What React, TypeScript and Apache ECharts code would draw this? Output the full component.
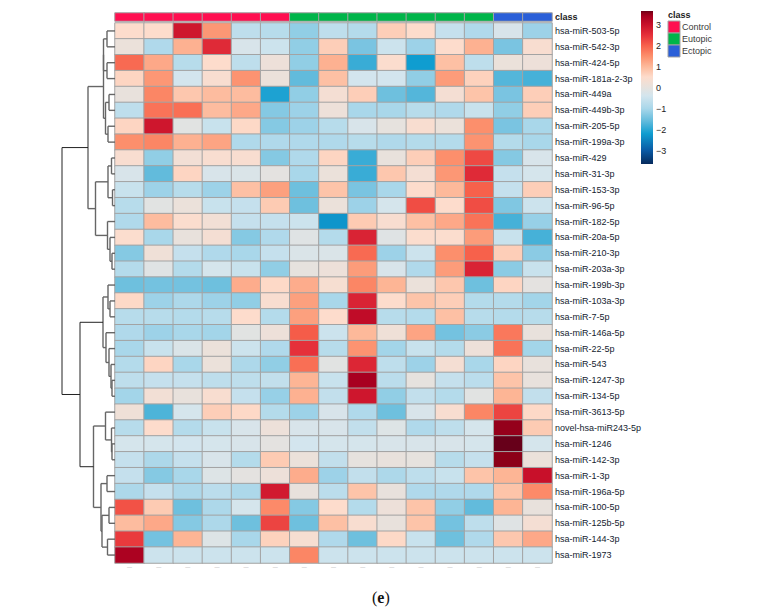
import React, { useEffect, useRef } from "react";
import * as echarts from "echarts";

const genes = ["hsa-miR-503-5p","hsa-miR-542-3p","hsa-miR-424-5p","hsa-miR-181a-2-3p","hsa-miR-449a","hsa-miR-449b-3p","hsa-miR-205-5p","hsa-miR-199a-3p","hsa-miR-429","hsa-miR-31-3p","hsa-miR-153-3p","hsa-miR-96-5p","hsa-miR-182-5p","hsa-miR-20a-5p","hsa-miR-210-3p","hsa-miR-203a-3p","hsa-miR-199b-3p","hsa-miR-103a-3p","hsa-miR-7-5p","hsa-miR-146a-5p","hsa-miR-22-5p","hsa-miR-543","hsa-miR-1247-3p","hsa-miR-134-5p","hsa-miR-3613-5p","novel-hsa-miR243-5p","hsa-miR-1246","hsa-miR-142-3p","hsa-miR-1-3p","hsa-miR-196a-5p","hsa-miR-100-5p","hsa-miR-125b-5p","hsa-miR-144-3p","hsa-miR-1973"];
const samples = ["S1","S2","S3","S4","S5","S6","S7","S8","S9","S10","S11","S12","S13","S14","S15"];
const sampleClass = [0,0,0,0,0,0,1,1,1,1,1,1,1,2,2];
const classNames = ["Control","Eutopic","Ectopic"];
const classColors = ["#ff0f50","#00b54a","#2a5fd8"];

const values: number[][] = [
[.5,.5,2.9,1.4,-.7,-.8,-1.2,-.7,-.85,.7,.5,-.6,-.9,-.3,-1.1],
[.1,-.9,1.1,2.6,-.3,-.5,-1.2,.7,-1.4,-.5,-1.1,.5,1.1,-1.4,.4],
[1.9,1.2,-.8,.5,-.7,.15,-1.2,1.1,-1.9,.45,-2.2,.9,-.7,.1,.15],
[.6,1.4,-.4,.4,1.45,.1,-1.6,.9,-.4,-.4,-1.2,1.35,.65,-1.7,-1.8],
[.05,1.6,.8,.95,.95,-2.1,-1.2,.3,.7,-1.5,-1.7,.3,.85,-1.4,.7],
[-.7,1.8,1.85,.95,1.2,-1.3,-1.1,.15,-1,-1,-.8,-.9,-.55,-1.2,.7],
[.6,2.9,-.1,-.55,.55,-1.3,-1.1,-.8,-.3,0,.4,.1,1.5,-1.4,-1],
[1.5,1.6,1.1,1.25,-.9,-.9,-.9,-.9,-.8,-.9,-.85,-.85,1.45,-.85,-1],
[.4,-1.2,.25,.4,.4,-1.3,-.9,.6,-1.9,.05,.7,1.5,2.25,-1.3,-.3],
[-.3,-1.6,.6,-.3,-.25,-.05,-1,.1,-1.9,.8,.3,1.4,2.6,-.6,-.35],
[-.55,-1.1,-.8,-1.1,.9,1.3,-1.5,.85,-1.4,-1,.5,1,2,-.6,.7],
[-.8,-.1,.1,-.55,-.6,.75,-1.5,.1,-1.1,-.35,2.2,.5,2.2,-1.35,-.5],
[-.9,.95,.45,.25,-.6,-.6,-.5,-2.3,.75,.4,.9,1.2,1.8,-1.8,-1.15],
[.45,-1,.05,.3,-1.3,-.9,-.15,-.85,2.7,-.15,.45,.45,1.35,-.55,-1.8],
[-1.3,.2,-.6,-.9,-1,-.6,-.25,-.25,1.9,-1.1,-.5,1.5,2,.7,-1.25],
[-.85,-.15,-.85,-.35,-.55,-1.2,0,.15,1.35,-.3,-.9,1.35,2.7,-1.25,-.55],
[-1.5,-1.45,-1.45,-1.5,1.15,.55,1.15,.35,1.6,1.05,.1,.8,-1.5,.6,-.05],
[.55,-1.1,-.95,-1.1,-1.2,.4,1.3,-1,2.7,.5,.85,.7,-.85,-.85,-1.05],
[-.8,-.8,-.85,-.8,.5,-.85,1.3,.5,3.1,-.8,-.85,.9,-.8,-.85,-.8],
[-.9,-1.1,-1,-1.05,-.1,.15,2.05,-.5,1,.2,1.25,-1.45,-1.25,1.75,.05],
[-1,-.55,-.25,.1,-.5,-.9,2.5,-.8,1.45,-1.05,-.55,-.85,.15,1.8,-1.05],
[-.85,.6,-1,.1,-.95,-1.2,1.85,-.1,2.65,-.7,-1.1,.3,-1,.6,.05],
[-.7,-.6,-.6,-.7,-.7,-.65,1.05,-.55,3.4,-.75,0,-.6,-.75,.85,.05],
[-1.05,.25,.05,.4,-.6,-1.15,1.1,-.65,2.9,-1.2,-.65,-.85,-.1,1.05,-.65],
[.2,-1.75,-.35,.7,.55,-.85,-1.1,-.3,-.9,-1.5,-.3,.4,1.6,2.3,.55],
[-.8,.5,-.85,-.55,-.3,.15,-.3,-.3,-.65,-.2,-.9,-.7,-.35,3.5,.75],
[-.35,-.35,-.4,-.35,-.3,-.05,-.4,-.35,-.35,-.3,-.3,-.3,-.35,3.75,-.35],
[-.6,-.95,-.6,-.3,-.85,.75,.1,-.65,0,.05,0,-.8,-.6,3.55,.1],
[-.6,-1.3,-1,-.2,-.05,.15,1.15,-1.1,-.65,-.95,-.7,-.55,.85,1.05,3],
[-.95,-.6,-.95,-.75,-.95,2.85,.05,-.75,.85,.05,-.9,-.9,-.9,.85,1.55],
[2.15,.75,-1.5,-.95,-.35,1.55,-1.3,.5,-.85,.15,.85,-1.2,-1.6,1.05,.05],
[.95,1.2,-1.3,-.95,-1.5,2.3,-1.5,.9,.4,.05,.85,-1.45,-.7,-.15,.3],
[2.4,-1.45,1.05,-.2,-1,.65,.35,-.9,-1.5,.55,-.55,-1.5,-.9,.8,1.2],
[3.35,-.5,-.5,-.5,-.5,-.5,1.6,-.5,-.5,-.5,-.5,-.5,-.5,-.5,-.5],
];

// Row tree: [merge height, child, child]; a number is a row index.
type Node = number | [number, Node, Node];
const tree: Node = [53,
  [27,
    [11.5,
      [11.5, [8,0,1], [8,2,3]],
      [9.5, [6,4,5], [7,6,7]],
    ],
    [19.5,
      [7, [3.5,8,9], [2.5,10,11]],
      [7.5, 12, [5,13,[3,14,15]]],
    ],
  ],
  [35,
    [12, [7,16,[5,17,18]], [9,19,[6,20,[4,21,[3,22,23]]]]],
    [21.5,
      [9.5, 24, [3.5,25,[3,26,27]]],
      [14, [8,28,29], [13,[6,30,31],[7.5,32,33]]],
    ],
  ],
];

const TICKS = [3,2,1,0,-1,-2,-3];
const RANGE = 3.65;
const STOPS: [number,string][] = [
  [-3.65,"#062a5c"],[-3,"#0a5aa5"],[-2.2,"#0f9dd0"],[-1.6,"#62bbdc"],[-1,"#a9d7ea"],[-.4,"#d3e5ee"],[0,"#e6e2de"],
  [.5,"#fddccc"],[1,"#fdb99a"],[1.5,"#fc8f6c"],[2,"#f7614b"],[2.5,"#e5303a"],[3,"#c8102a"],[3.4,"#a80020"],[3.55,"#8c0018"],[3.65,"#67001a"],
];

function collect(n: Node, out: number[][]): [number, number] {
  if (typeof n === "number") return [0, n + 0.5];
  const [h, a, b] = n;
  const [h1, y1] = collect(a, out);
  const [h2, y2] = collect(b, out);
  out.push([h1, y1, h, y1]);
  out.push([h, y1, h, y2]);
  out.push([h2, y2, h, y2]);
  return [h, (y1 + y2) / 2];
}

function rampColors(): string[] {
  const n = 146;
  const toRgb = (h: string) => [1, 3, 5].map((i) => parseInt(h.slice(i, i + 2), 16));
  const out: string[] = [];
  for (let i = 0; i <= n; i++) {
    const v = -RANGE + (2 * RANGE * i) / n;
    let k = 0;
    while (k < STOPS.length - 2 && STOPS[k + 1][0] < v) k++;
    const [v0, c0] = STOPS[k];
    const [v1, c1] = STOPS[k + 1];
    const f = Math.min(1, Math.max(0, (v - v0) / (v1 - v0)));
    const a = toRgb(c0), b = toRgb(c1);
    out.push(`rgb(${a.map((x, j) => Math.round(x + (b[j] - x) * f)).join(",")})`);
  }
  return out;
}

export default function App() {
  const ref = useRef<HTMLDivElement>(null);
  useEffect(() => {
    const chart = echarts.init(ref.current!, undefined, { renderer: "svg" });
    const heat: number[][] = [];
    values.forEach((row, r) => row.forEach((v, c) => heat.push([c, r, v])));
    const ann = sampleClass.map((k, c) => [c, 0, k]);
    const segs: number[][] = [];
    collect(tree, segs);

    const L = 115, R = 552, T = 23, B = 563;
    const font = "'Liberation Sans', Arial, sans-serif";
    chart.setOption({
      animation: false,
      backgroundColor: "#fff",
      grid: [
        { left: L, top: T, width: R - L, height: B - T },
        { left: L, top: 13, width: R - L, height: 8 },
        { left: 62, top: T, width: L - 62, height: B - T },
      ],
      xAxis: [
        { type: "category", gridIndex: 0, data: samples, position: "bottom", axisLine: { show: false }, axisTick: { show: false }, splitLine: { show: false },
          axisLabel: { formatter: () => "—", fontSize: 5, color: "#b5b5b5", margin: 1, interval: 0 } },
        { type: "category", gridIndex: 1, data: samples, axisLine: { show: false }, axisTick: { show: false }, axisLabel: { show: false } },
        { type: "value", gridIndex: 2, inverse: true, min: 0, max: 53, axisLine: { show: false }, axisTick: { show: false }, axisLabel: { show: false }, splitLine: { show: false } },
      ],
      yAxis: [
        { type: "category", gridIndex: 0, data: genes, inverse: true, position: "right", axisLine: { show: false }, axisTick: { show: false }, splitLine: { show: false },
          axisLabel: { interval: 0, fontSize: 9, fontFamily: font, color: "#14232f", margin: 3 } },
        { type: "category", gridIndex: 1, data: ["class"], position: "right", axisLine: { show: false }, axisTick: { show: false },
          axisLabel: { fontSize: 9, fontWeight: "bold", fontFamily: font, color: "#222", margin: 3 } },
        { type: "value", gridIndex: 2, inverse: true, min: 0, max: genes.length, axisLine: { show: false }, axisTick: { show: false }, axisLabel: { show: false }, splitLine: { show: false } },
      ],
      visualMap: [
        { show: false, type: "continuous", seriesIndex: 0, dimension: 2, min: -RANGE, max: RANGE, inRange: { color: rampColors() } },
        { show: false, type: "piecewise", seriesIndex: 1, dimension: 2, pieces: classNames.map((n, i) => ({ value: i, color: classColors[i], label: n })) },
      ],
      series: [
        { type: "heatmap", xAxisIndex: 0, yAxisIndex: 0, data: heat, itemStyle: { borderColor: "#a3a3a3", borderWidth: 1 }, emphasis: { disabled: true }, progressive: 0 },
        { type: "heatmap", xAxisIndex: 1, yAxisIndex: 1, data: ann, itemStyle: { borderColor: "#a3a3a3", borderWidth: 1 }, emphasis: { disabled: true }, progressive: 0 },
        {
          type: "custom", xAxisIndex: 2, yAxisIndex: 2, data: segs, silent: true, clip: false, encode: { x: [0, 2], y: [1, 3] },
          renderItem: (_: any, api: any) => {
            const a = api.coord([api.value(0), api.value(1)]);
            const b = api.coord([api.value(2), api.value(3)]);
            const big = Math.max(api.value(0), api.value(2)) >= 35;
            return { type: "line", shape: { x1: a[0], y1: a[1], x2: b[0], y2: b[1] },
              style: { stroke: big ? "#222" : "#666", lineWidth: big ? 1 : 1.4 } };
          },
        },
      ],
      graphic: [
        { type: "rect", shape: { x: 641, y: 11, width: 12, height: 153 },
          style: { fill: new echarts.graphic.LinearGradient(0, 1, 0, 0, STOPS.map(([v, c]) => ({ offset: (v + RANGE) / (2 * RANGE), color: c }))) } },
        ...TICKS.map((t) => ({ type: "text", x: 656, y: 87.7 - t * 21, style: { text: t < 0 ? "\u2212" + -t : String(t), fontSize: 9, fontFamily: font, fill: "#222", verticalAlign: "middle" } })),
        { type: "text", x: 668, y: 15, style: { text: "class", fontSize: 9, fontWeight: "bold", fontFamily: font, fill: "#222", verticalAlign: "middle" } },
        ...classNames.flatMap((n, i) => [
          { type: "rect", shape: { x: 668, y: 21 + i * 12, width: 12, height: 12 }, style: { fill: classColors[i], stroke: "#a3a3a3", lineWidth: 1 } },
          { type: "text", x: 682, y: 27 + i * 12, style: { text: n, fontSize: 9, fontFamily: font, fill: "#3a3a3a", verticalAlign: "middle" } },
        ]),
        { type: "text", x: 372, y: 597, style: { rich: { p: { fontFamily: "'Liberation Serif', serif", fontSize: 16, fill: "#111" }, e: { fontFamily: "'Liberation Serif', serif", fontSize: 16, fontWeight: "bold", fill: "#111" } }, text: "{p|(}{e|e}{p|)}", verticalAlign: "middle" } },
      ],
    });
    return () => chart.dispose();
  }, []);
  return <div ref={ref} style={{ position: "absolute", left: 0, top: 0, width: 775, height: 610 }} />;
}
